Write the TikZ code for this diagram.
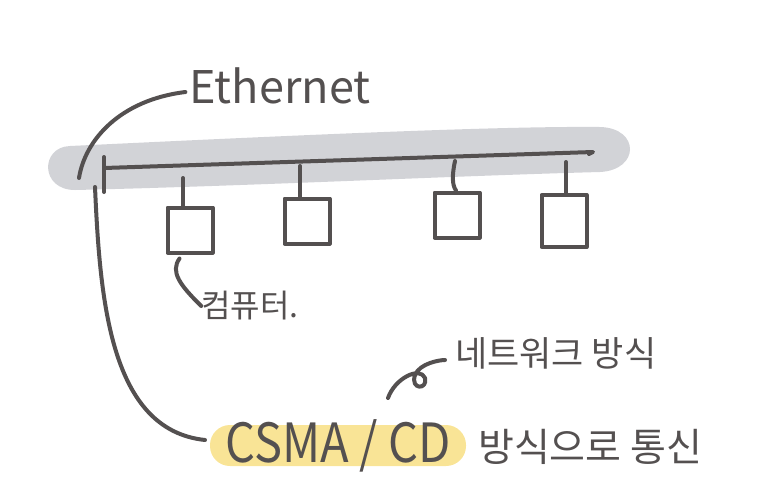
\documentclass[tikz,border=0pt]{standalone}
\usepackage{fontspec}
\setmainfont{Noto Sans CJK KR}
\definecolor{ink}{RGB}{84,80,80}
\definecolor{band}{RGB}{210,211,215}
\definecolor{marker}{RGB}{249,228,150}
\tikzset{
  pen/.style={draw=ink, line width=4pt, line cap=round, line join=round},
  pcbox/.style={pen, minimum width=45pt, minimum height=45pt, inner sep=0pt},
  label/.style={text=ink, inner sep=0pt}
}
\begin{document}
\begin{tikzpicture}[x=1pt,y=-1pt]
  \useasboundingbox (0,0) rectangle (771,483);
  % gray band behind the bus
  \fill[band] (70,146) .. controls (300,135) and (500,126) .. (600,127)
    .. controls (640,128) and (640,170) .. (600,172)
    .. controls (450,176) and (250,186) .. (75,190)
    .. controls (40,190) and (40,147) .. (70,146) -- cycle;
  % yellow highlight
  \fill[marker, rounded corners=20pt] (210,425) rectangle (466,466);
  % bus
  \coordinate (busL) at (104,168);
  \coordinate (busR) at (593,152);
  \draw[pen] (busL) -- (busR) -- ++(-4,2);
  \draw[pen] (104,157) -- (104,192);
  % computers
  \node[pcbox] (pc1) at (190,230) {};
  \node[pcbox] (pc2) at (307,221) {};
  \node[pcbox] (pc3) at (457,215) {};
  \node[pcbox, minimum height=52pt] (pc4) at (564,221) {};
  \draw[pen] (183,178) -- (pc1.north -| 183,0);
  \draw[pen] (300,166) -- (pc2.north -| 300,0);
  \draw[pen] (455,161) .. controls (452,175) and (452,185) .. (pc3.north -| 456,0);
  \draw[pen] (566,162) -- (pc4.north -| 566,0);
  % labels
  \node[label, font=\fontsize{45}{45}\selectfont] (eth) at (280,86) {Ethernet};
  \node[label, font=\fontsize{32}{32}\selectfont] (pcl) at (250,306) {컴퓨터.};
  \node[label, font=\fontsize{47}{47}\selectfont, yscale=1.15] (csma) at (338,446) {CSMA / CD};
  \node[label, font=\fontsize{39}{39}\selectfont, anchor=west] (comm) at (478,447) {방식으로 통신};
  \node[label, font=\fontsize{35}{35}\selectfont, anchor=west] (net) at (455,353) {네트워크 방식};
  % leader lines
  \draw[pen] (eth.west) ++(-4,6) .. controls (120,100) and (85,140) .. (79,178);
  \draw[pen] (95,187) .. controls (100,300) and (110,430) .. (205,440);
  \draw[pen] (pc1.south west) ++(14,4) .. controls (170,272) and (180,285) .. (pcl.west);
  \draw[pen] (388,398) .. controls (395,378) and (420,366) .. (425,378)
    .. controls (428,390) and (410,390) .. (415,375)
    .. controls (420,363) and (440,360) .. (445,360);
\end{tikzpicture}
\end{document}
